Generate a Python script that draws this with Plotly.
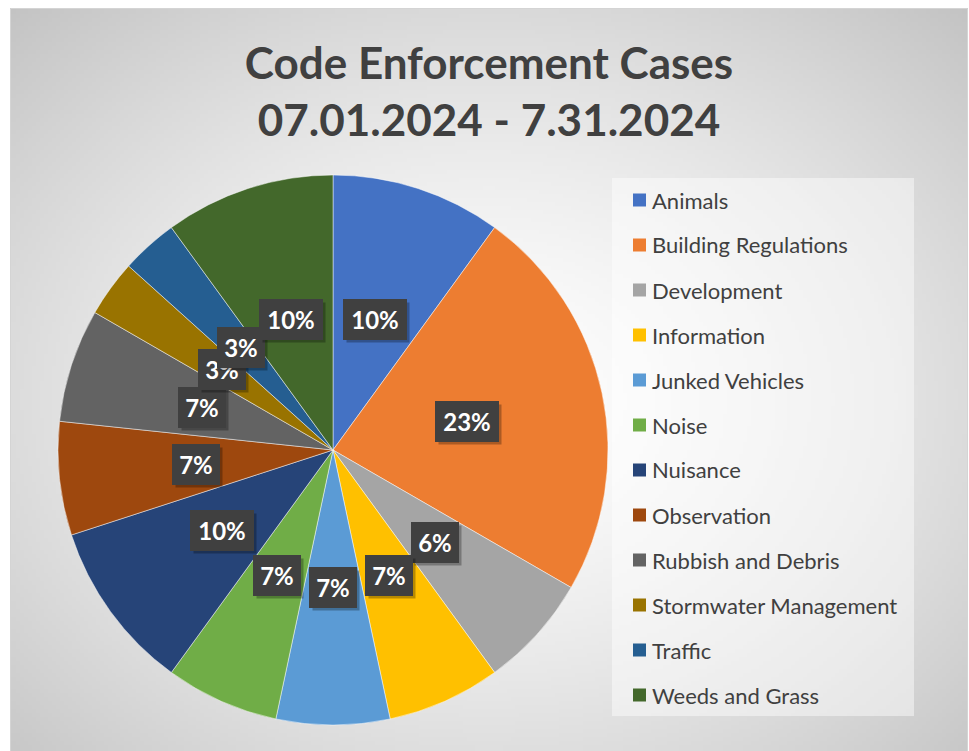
import base64
import struct
import zlib
import math
import numpy as np
import plotly.graph_objects as go

# ---------------- data ----------------
categories = [
    "Animals", "Building Regulations", "Development", "Information",
    "Junked Vehicles", "Noise", "Nuisance", "Observation",
    "Rubbish and Debris", "Stormwater Management", "Traffic", "Weeds and Grass",
]
case_counts = [3, 7, 2, 2, 2, 2, 3, 2, 2, 1, 1, 3]
pct_labels = ["10%", "23%", "6%", "7%", "7%", "7%", "10%", "7%", "7%", "3%", "3%", "10%"]
slice_colors = [
    "#4472C4", "#ED7D31", "#A5A5A5", "#FFC000", "#5B9BD5", "#70AD47",
    "#264478", "#9E480E", "#636363", "#997300", "#255E91", "#43682B",
]
title_lines = ["Code Enforcement Cases", "07.01.2024 - 7.31.2024"]

# ---------------- geometry helpers ----------------
W, H = 969, 751


def px(x):
    return x / W


def py(y):
    return 1 - y / H


CX, CY, R = 333, 450, 275
FONT = "Lato"
TXT = "#404040"

# ---------------- background gradient image ----------------
def png_data_uri(arr):
    h, w, _ = arr.shape
    raw = b"".join(b"\x00" + arr[r].tobytes() for r in range(h))

    def chunk(t, d):
        c = struct.pack(">I", len(d)) + t + d
        return c + struct.pack(">I", zlib.crc32(t + d) & 0xFFFFFFFF)

    png = (b"\x89PNG\r\n\x1a\n"
           + chunk(b"IHDR", struct.pack(">IIBBBBB", w, h, 8, 2, 0, 0, 0))
           + chunk(b"IDAT", zlib.compress(raw, 9))
           + chunk(b"IEND", b""))
    return "data:image/png;base64," + base64.b64encode(png).decode()


AX0, AY0, AX1, AY1 = 10, 8, 968, 751
gw, gh = 240, 186
xs = AX0 + (np.arange(gw) + 0.5) * (AX1 - AX0) / gw
ys = AY0 + (np.arange(gh) + 0.5) * (AY1 - AY0) / gh
XX, YY = np.meshgrid(xs, ys)
d = np.sqrt(((XX - 489) / 479) ** 2 + ((YY - 400) / 372) ** 2)
val = np.clip(255 - 35 * d ** 1.42, 192, 255).astype(np.uint8)
grad = np.stack([val, val, val], axis=-1)
bg_uri = png_data_uri(grad)

# ---------------- figure ----------------
fig = go.Figure()
fig.add_trace(go.Pie(
    labels=categories,
    values=case_counts,
    sort=False,
    direction="clockwise",
    rotation=0,
    textinfo="none",
    hoverinfo="label+percent",
    marker=dict(colors=slice_colors, line=dict(color="rgba(255,255,255,0.6)", width=0.8)),
    domain=dict(x=[px(CX - R), px(CX + R)], y=[py(CY + R), py(CY - R)]),
    showlegend=False,
))

shapes = [
    # chart area border
    dict(type="rect", xref="paper", yref="paper", x0=px(AX0 + 0.5), x1=px(AX1 - 0.5),
         y0=py(AY1 + 5), y1=py(AY0 + 0.5), line=dict(color="#d4d4d4", width=1),
         fillcolor="rgba(0,0,0,0)", layer="below"),
    # legend box
    dict(type="rect", xref="paper", yref="paper", x0=px(612), x1=px(914),
         y0=py(716), y1=py(178), line=dict(width=0),
         fillcolor="rgba(255,255,255,0.45)", layer="below"),
]

annotations = []

# legend entries
for i, (name, col) in enumerate(zip(categories, slice_colors)):
    yc = 200 + 45 * i
    shapes.append(dict(type="rect", xref="paper", yref="paper",
                       x0=px(633), x1=px(646), y0=py(yc + 6.5), y1=py(yc - 6.5),
                       line=dict(width=0), fillcolor=col))
    annotations.append(dict(x=px(650), y=py(yc), xref="paper", yref="paper",
                            xanchor="left", yanchor="middle", showarrow=False,
                            text=name, font=dict(family=FONT, size=22, color=TXT)))

# data labels (boxes) placed from the pie's own angles
total = sum(case_counts)
cum = 0.0
for v, lab in zip(case_counts, pct_labels):
    mid = (cum + v / 2) / total * 2 * math.pi
    cum += v
    lx = CX + 0.5 * R * math.sin(mid)
    ly = CY - 0.5 * R * math.cos(mid)
    wbox = 16 * len(lab) + 2
    common = dict(x=px(lx), y=py(ly), xref="paper", yref="paper",
                  xanchor="center", yanchor="middle", showarrow=False,
                  borderpad=6, width=wbox, height=27, borderwidth=1)
    # drop shadow (empty box)
    annotations.append(dict(common, text=" ", xshift=3, yshift=-3,
                            bgcolor="rgba(0,0,0,0.28)", bordercolor="rgba(0,0,0,0)",
                            font=dict(family=FONT, size=24, color="rgba(0,0,0,0)")))
    annotations.append(dict(common, text=lab, bgcolor="#404040", bordercolor="#404040",
                            font=dict(family=FONT, size=24, color="white", weight="bold")))

fig.update_layout(
    width=W, height=H,
    margin=dict(l=0, r=0, t=0, b=0),
    paper_bgcolor="white",
    plot_bgcolor="white",
    title=dict(text="<br>".join(title_lines), x=px(489), xanchor="center",
               y=py(79), yanchor="middle",
               font=dict(family=FONT, size=44, color=TXT, weight="bold")),
    images=[dict(source=bg_uri, xref="paper", yref="paper",
                 x=px(AX0), y=py(AY0), sizex=(AX1 - AX0) / W, sizey=(AY1 - AY0) / H,
                 xanchor="left", yanchor="top", sizing="stretch", layer="below")],
    shapes=shapes,
    annotations=annotations,
    showlegend=False,
)

fig.write_html("out.html", config={"displayModeBar": False},
               post_script="document.body.style.margin='0';")
